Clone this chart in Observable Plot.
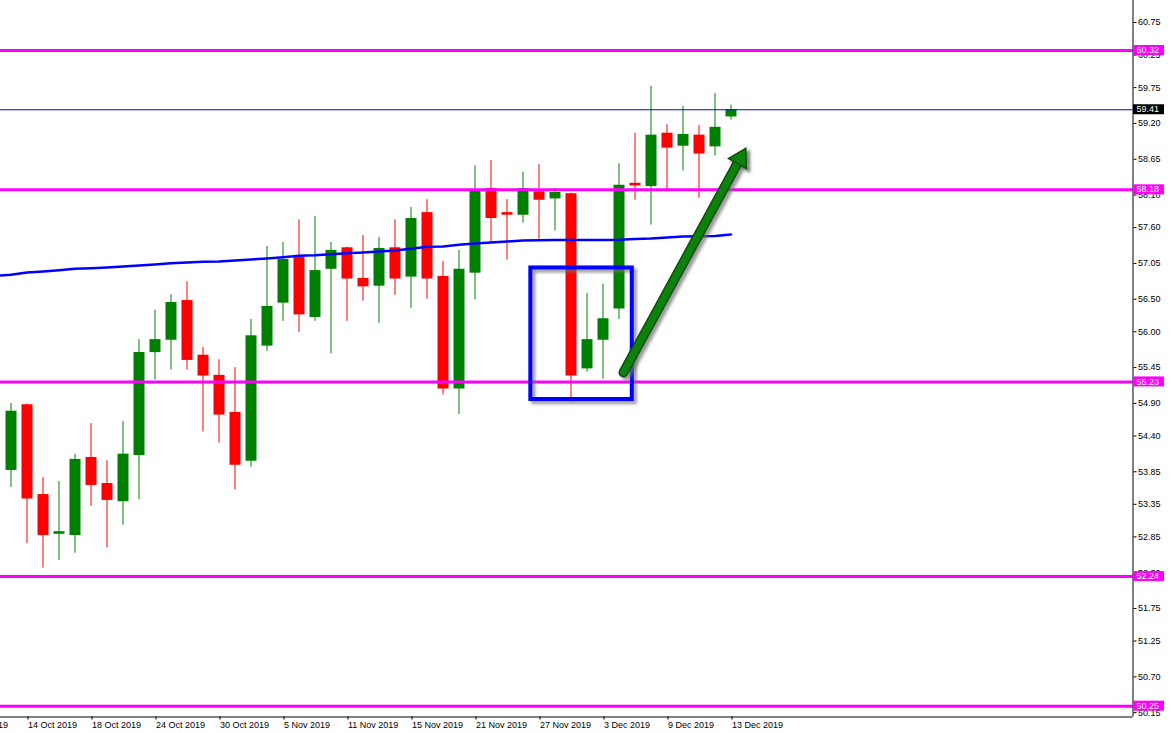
<!DOCTYPE html>
<html>
<head>
<meta charset="utf-8">
<script src="https://cdn.jsdelivr.net/npm/d3@7"></script>
<script src="https://cdn.jsdelivr.net/npm/@observablehq/plot@0.6"></script>
<style>
  html, body { margin: 0; padding: 0; background: #ffffff; overflow: hidden; }
  #chart svg { display: block; }
</style>
</head>
<body>
<div id="chart"></div>
<script>
// ---------- data ----------
const dates = [
  "2019-10-11","2019-10-14","2019-10-15","2019-10-16","2019-10-17","2019-10-18",
  "2019-10-21","2019-10-22","2019-10-23","2019-10-24","2019-10-25",
  "2019-10-28","2019-10-29","2019-10-30","2019-10-31","2019-11-01",
  "2019-11-04","2019-11-05","2019-11-06","2019-11-07","2019-11-08",
  "2019-11-11","2019-11-12","2019-11-13","2019-11-14","2019-11-15",
  "2019-11-18","2019-11-19","2019-11-20","2019-11-21","2019-11-22",
  "2019-11-25","2019-11-26","2019-11-27","2019-11-28","2019-11-29",
  "2019-12-02","2019-12-03","2019-12-04","2019-12-05","2019-12-06",
  "2019-12-09","2019-12-10","2019-12-11","2019-12-12","2019-12-13"
];
const open  = [53.87,54.88,53.50,52.89,52.87,54.07,53.67,53.39,54.10,55.68,55.87,56.48,55.64,55.33,54.76,54.01,55.78,56.44,57.14,56.22,56.96,57.29,56.82,56.70,57.29,56.84,57.83,56.85,55.12,56.90,58.20,57.83,57.79,58.15,58.04,58.12,55.43,55.87,56.35,58.28,58.23,59.05,58.85,59.02,58.84,59.30];
const high  = [54.90,54.89,53.76,53.70,54.12,54.59,54.02,54.62,55.88,56.33,56.57,56.77,55.76,55.57,55.45,56.19,57.31,57.37,57.72,57.77,57.37,57.30,57.48,57.45,57.72,57.91,58.03,57.08,57.25,58.55,58.63,58.03,58.45,58.57,58.20,58.13,56.59,56.73,58.58,59.05,59.77,59.18,59.46,59.17,59.66,59.48];
const low   = [53.61,52.75,52.37,52.49,52.60,53.32,52.68,53.03,53.42,55.26,55.41,55.41,54.46,54.29,53.57,53.92,55.70,56.16,55.99,56.16,55.66,56.16,56.47,56.13,56.56,56.36,56.50,55.03,54.73,56.49,57.36,57.10,57.67,57.42,57.55,54.92,55.38,55.27,56.19,58.02,57.64,58.19,58.47,58.05,58.70,59.25];
const close = [54.78,53.43,52.87,52.93,54.04,53.64,53.41,54.12,55.68,55.88,56.45,55.56,55.32,54.72,53.95,55.94,56.39,57.11,56.26,56.94,57.25,56.81,56.69,57.28,56.81,57.74,56.81,55.12,56.96,58.17,57.74,57.79,58.20,58.02,58.14,55.32,55.88,56.20,58.25,58.24,59.02,58.82,59.03,58.73,59.14,59.41];

// 200-period moving average (blue curve), read per bar
const maDates = ["2019-10-10", ...dates];
const ma200 = [56.86,56.875,56.91,56.926,56.946,56.967,56.976,56.987,57.003,57.018,57.033,57.053,57.064,57.075,57.079,57.095,57.11,57.125,57.145,57.167,57.176,57.191,57.207,57.218,57.233,57.248,57.274,57.305,57.31,57.336,57.356,57.371,57.387,57.402,57.406,57.41,57.41,57.41,57.41,57.413,57.425,57.433,57.448,57.463,57.468,57.471,57.494];

// horizontal support/resistance levels and current price
const levels = [60.32, 58.18, 55.23, 52.24, 50.25];
const currentPrice = 59.41;

// axis ticks
const yTicks = [60.75,60.25,59.75,59.20,58.65,58.10,57.60,57.05,56.50,56.00,55.45,54.90,54.40,53.85,53.35,52.85,52.30,51.75,51.25,50.70,50.15];
const xTickDates  = ["2019-10-08","2019-10-14","2019-10-18","2019-10-24","2019-10-30","2019-11-05","2019-11-11","2019-11-15","2019-11-21","2019-11-27","2019-12-03","2019-12-09","2019-12-13"];
const xTickLabels = ["8 Oct 2019","14 Oct 2019","18 Oct 2019","24 Oct 2019","30 Oct 2019","5 Nov 2019","11 Nov 2019","15 Nov 2019","21 Nov 2019","27 Nov 2019","3 Dec 2019","9 Dec 2019","13 Dec 2019"];

// annotations (bar index units, price units)
const boxBars   = [32.49, 38.83];
const boxPrices = [56.98, 54.96];
const arrowBars   = [38.28, 45.575];
const arrowPrices = [55.375, 58.663];

// ---------- helpers ----------
const base = new Date(Date.UTC(2019, 9, 11));
const isWd = t => t.getUTCDay() % 6 !== 0;
function tradeIdx(s) {
  const d = new Date(s + "T00:00:00Z");
  if (d >= base) return d3.utcDay.range(d3.utcDay.offset(base, 1), d3.utcDay.offset(d, 1)).filter(isWd).length;
  return -d3.utcDay.range(d, base).filter(isWd).length;
}

const candles = dates.map((d, k) => ({
  i: tradeIdx(d), open: open[k], high: high[k], low: low[k], close: close[k],
  color: close[k] >= open[k] ? "#008000" : "#ff0000"
}));
const ma = maDates.map((d, k) => ({i: tradeIdx(d), v: ma200[k]}));
const xTickIdx = xTickDates.map(tradeIdx);
const xLabelMap = new Map(xTickIdx.map((v, k) => [v, xTickLabels[k]]));
const box = [{x1: boxBars[0], x2: boxBars[1], y1: boxPrices[0], y2: boxPrices[1]}];
const arrow = [{x1: arrowBars[0], y1: arrowPrices[0], x2: arrowBars[1], y2: arrowPrices[1]}];

const W = 1172, H = 733;
const xDomain = [-0.65625, 70.125];
const yDomain = [50.0836, 61.088];
const shadow = "#707070";

const chart = Plot.plot({
  width: W, height: H,
  marginLeft: 0, marginRight: 39.5, marginTop: 0, marginBottom: 16.5,
  style: {fontFamily: "'Liberation Sans', Arial, sans-serif", fontSize: "9px", background: "#ffffff", color: "#000"},
  x: {type: "linear", domain: xDomain, axis: null},
  y: {type: "linear", domain: yDomain, axis: null},
  marks: [
    Plot.ruleX(candles, {x: "i", y1: "low", y2: "high", stroke: "color", strokeWidth: 1}),
    Plot.ruleX(candles, {x: "i", y1: "open", y2: "close", stroke: "color", strokeWidth: 11}),
    Plot.line(ma, {x: "i", y: "v", stroke: "#0000ff", strokeWidth: 2.5}),
    Plot.ruleY([currentPrice], {stroke: "#0000ff", strokeWidth: 1}),
    Plot.ruleY(levels, {stroke: "#ff00ff", strokeWidth: 3}),
    // blue box with shadow
    Plot.rect(box, {x1: "x1", x2: "x2", y1: "y1", y2: "y2", fill: "none", stroke: shadow, strokeOpacity: 0.7, strokeWidth: 4, dx: 3, dy: 3}),
    Plot.rect(box, {x1: "x1", x2: "x2", y1: "y1", y2: "y2", fill: "none", stroke: "#0000ff", strokeWidth: 4}),
    // green arrow with shadow
    Plot.link(arrow, {x1: "x1", y1: "y1", x2: "x2", y2: "y2", stroke: shadow, strokeOpacity: 0.7, strokeWidth: 10, strokeLinecap: "round", dx: 3, dy: 3}),
    Plot.dot(arrow, {x: "x2", y: "y2", symbol: "triangle", r: 7.5, rotate: 29, fill: shadow, fillOpacity: 0.7, stroke: shadow, strokeWidth: 2, dx: 3, dy: 3}),
    Plot.link(arrow, {x1: "x1", y1: "y1", x2: "x2", y2: "y2", stroke: "#0b4f0b", strokeWidth: 10, strokeLinecap: "round"}),
    Plot.link(arrow, {x1: "x1", y1: "y1", x2: "x2", y2: "y2", stroke: "#0c820c", strokeWidth: 7, strokeLinecap: "round"}),
    Plot.dot(arrow, {x: "x2", y: "y2", symbol: "triangle", r: 7.5, rotate: 29, fill: "#0c820c", stroke: "#0b4f0b", strokeWidth: 1.5}),
    // frame (right and bottom)
    Plot.ruleX([xDomain[1]], {stroke: "#000", strokeWidth: 1}),
    Plot.ruleY([yDomain[0]], {stroke: "#000", strokeWidth: 1}),
    // axes
    Plot.axisY({anchor: "right", ticks: yTicks, tickFormat: d => d.toFixed(2), tickSize: 3, tickPadding: 2, label: null, fontSize: 9, stroke: "#000", fill: "#000"}),
    Plot.axisX({anchor: "bottom", ticks: xTickIdx, tickFormat: d => xLabelMap.get(d), tickSize: 3, tickPadding: 2, textAnchor: "start", dx: 1, label: null, fontSize: 9, stroke: "#000", fill: "#000"})
  ]
});

// blur the shadows
const svg = d3.select(chart);
const defs = svg.insert("defs", ":first-child");
defs.append("filter").attr("id", "shadowBlur").attr("x", "-20%").attr("y", "-20%").attr("width", "140%").attr("height", "140%")
  .append("feGaussianBlur").attr("stdDeviation", 1.6);
svg.selectAll(`g[stroke="${shadow}"]`).attr("filter", "url(#shadowBlur)");

// price label boxes on the right axis
const ys = chart.scale("y");
const tags = levels.map(v => ({v, fill: "#ff00ff"})).concat([{v: currentPrice, fill: "#000000"}]);
const gTags = svg.append("g").attr("text-anchor", "start");
for (const t of tags) {
  const yy = ys.apply(t.v);
  gTags.append("rect").attr("x", 1133).attr("y", yy - 5).attr("width", 31).attr("height", 10).attr("fill", t.fill);
  gTags.append("text").attr("x", 1136.5).attr("y", yy).attr("dy", "0.35em")
    .attr("text-anchor", "start")
    .attr("fill", "#ffffff").attr("font-size", 9)
    .text(t.v.toFixed(2));
}

document.getElementById("chart").append(chart);
</script>
</body>
</html>
